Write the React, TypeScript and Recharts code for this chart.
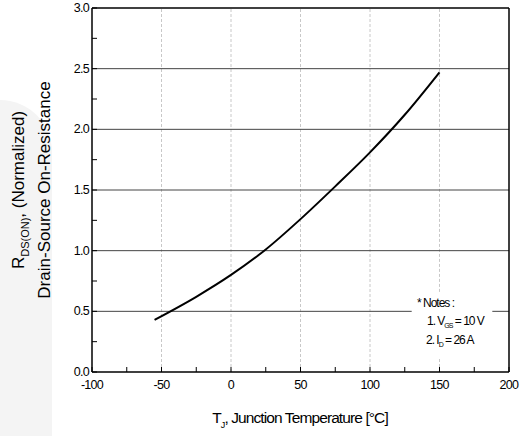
import React from 'react';
import { LineChart, Line, XAxis, YAxis, ReferenceLine, Customized } from 'recharts';

const temperatures = [-55, -25, 0, 25, 50, 75, 100, 125, 150];
const resistance = [0.43, 0.62, 0.8, 1.01, 1.26, 1.53, 1.81, 2.12, 2.47];

const xTicks = [-100, -75, -50, -25, 0, 25, 50, 75, 100, 125, 150, 175, 200];
const xMajor = [-100, -50, 0, 50, 100, 150, 200];
const yTicks = [0, 0.25, 0.5, 0.75, 1, 1.25, 1.5, 1.75, 2, 2.25, 2.5, 2.75, 3];
const yMajor = [0, 0.5, 1, 1.5, 2, 2.5, 3];
const xGrid = [-50, 0, 50, 100];
const yGrid = [1, 1.5, 2, 2.5];
const notesBox = { x1: 130, x2: 188, y1: 0.12, y2: 0.66 };

const data = temperatures.map((t, i) => ({ t, r: resistance[i] }));

const FONT = "'Liberation Sans', Arial, sans-serif";

const XTick = (props: any) => {
  const { x, y, payload } = props;
  const v = payload.value;
  const major = xMajor.includes(v);
  return (
    <g>
      <line x1={x} y1={y} x2={x} y2={y - 5} stroke="#000" strokeWidth={1} />
      {major && (
        <text x={x} y={y + 17} textAnchor="middle" fontSize={12.5} letterSpacing={-0.7} fill="#000" fontFamily={FONT}>
          {String(v)}
        </text>
      )}
    </g>
  );
};

const YTick = (props: any) => {
  const { x, y, payload } = props;
  const v = payload.value;
  const major = yMajor.some((m) => Math.abs(m - v) < 1e-9);
  return (
    <g>
      <line x1={x} y1={y} x2={x + 5} y2={y} stroke="#000" strokeWidth={1} />
      {major && (
        <text x={x - 3} y={y + 4} textAnchor="end" fontSize={12.5} letterSpacing={-0.7} fill="#000" fontFamily={FONT}>
          {v.toFixed(1)}
        </text>
      )}
    </g>
  );
};

const Labels = () => (
  <g fontFamily={FONT} fill="#000">
    <text transform="translate(24,190) rotate(-90)" textAnchor="middle" fontSize={17}>
      R<tspan fontSize={11} dy={5}>DS(ON)</tspan>
      <tspan dy={-5}>, (Normalized)</tspan>
    </text>
    <text transform="translate(50,190) rotate(-90)" textAnchor="middle" fontSize={17}>
      Drain-Source On-Resistance
    </text>
    <text x={300} y={423} textAnchor="middle" fontSize={15.5} letterSpacing={-0.9}>
      T<tspan fontSize={9} dy={5}>J</tspan>
      <tspan dy={-5}>, Junction Temperature [°C]</tspan>
    </text>
    <text x={417} y={307} fontSize={12} letterSpacing={-1}>* Notes :</text>
    <text x={427} y={325} fontSize={12} letterSpacing={-1}>
      1. V<tspan fontSize={7} dy={3}>GS</tspan>
      <tspan dy={-3}> = 10 V</tspan>
    </text>
    <text x={426} y={344} fontSize={12} letterSpacing={-1}>
      2. I<tspan fontSize={7} dy={3}>D</tspan>
      <tspan dy={-3}> = 26 A</tspan>
    </text>
  </g>
);

export default function App() {
  return (
    <div style={{ position: 'absolute', left: 0, top: 0, width: 524, height: 436, background: '#fff', overflow: 'hidden' }}>
      <div style={{ position: 'absolute', left: 0, top: 100, width: 52, height: 336, background: '#f4f4f4', borderTopRightRadius: 60 }} />
      <div style={{ position: 'absolute', left: 0, top: 0 }}>
        <LineChart width={524} height={436} data={data} margin={{ top: 8, right: 15, left: 0, bottom: 0 }}>
          <XAxis
            dataKey="t"
            type="number"
            domain={[-100, 200]}
            ticks={xTicks}
            interval={0}
            height={64}
            tickSize={0}
            tickMargin={0}
            tick={<XTick />}
            tickLine={false}
            axisLine={{ stroke: '#000', strokeWidth: 1.5 }}
          />
          <YAxis
            type="number"
            domain={[0, 3]}
            ticks={yTicks}
            interval={0}
            width={92}
            tickSize={0}
            tickMargin={0}
            tick={<YTick />}
            tickLine={false}
            axisLine={{ stroke: '#000', strokeWidth: 1.5 }}
          />
          {xGrid.map((v) => (
            <ReferenceLine key={'vx' + v} x={v} stroke="#c8c8c8" strokeDasharray="3 2" />
          ))}
          <ReferenceLine segment={[{ x: 150, y: 0 }, { x: 150, y: notesBox.y1 }]} stroke="#c8c8c8" strokeDasharray="3 2" />
          <ReferenceLine segment={[{ x: 150, y: notesBox.y2 }, { x: 150, y: 3 }]} stroke="#c8c8c8" strokeDasharray="3 2" />
          {yGrid.map((v) => (
            <ReferenceLine key={'hy' + v} y={v} stroke="#444" strokeWidth={1} />
          ))}
          <ReferenceLine segment={[{ x: -100, y: 0.5 }, { x: notesBox.x1, y: 0.5 }]} stroke="#444" />
          <ReferenceLine segment={[{ x: notesBox.x2, y: 0.5 }, { x: 200, y: 0.5 }]} stroke="#444" />
          <ReferenceLine y={3} stroke="#000" strokeWidth={1.5} />
          <ReferenceLine x={200} stroke="#000" strokeWidth={1.5} />
          <Line type="monotone" dataKey="r" stroke="#000" strokeWidth={2} dot={false} isAnimationActive={false} />
          <Customized component={Labels} />
        </LineChart>
      </div>
    </div>
  );
}
